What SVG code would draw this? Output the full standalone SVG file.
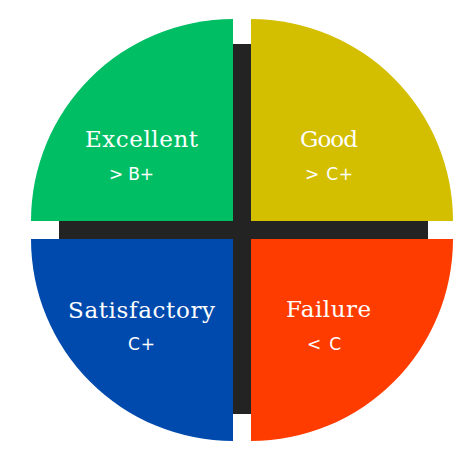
<svg xmlns="http://www.w3.org/2000/svg" width="473" height="459" viewBox="0 0 473 459">
  <style>
    .title { font-family: "DejaVu Serif", "Liberation Serif", serif; font-size: 23px; fill: #ffffff; }
    .grade { font-family: "DejaVu Sans", "Liberation Sans", sans-serif; font-size: 17px; fill: #ffffff; }
  </style>
  <rect width="473" height="459" fill="#ffffff"/>
  <!-- dark cross behind the quadrants -->
  <g id="cross" fill="#232323">
    <rect x="233" y="44" width="18" height="370"/>
    <rect x="59" y="221" width="369" height="18"/>
  </g>
  <g id="excellent">
    <path d="M233,221 L31,221 A202,202 0 0 1 233,19 Z" fill="#00BE64"/>
    <text class="title" x="85" y="147" textLength="113">Excellent</text>
    <text class="grade" x="109" y="180" textLength="45">&gt; B+</text>
  </g>
  <g id="good">
    <path d="M251,221 L251,19 A202,202 0 0 1 453,221 Z" fill="#D4BE00"/>
    <text class="title" x="300" y="147" textLength="58">Good</text>
    <text class="grade" x="305" y="180" textLength="48">&gt; C+</text>
  </g>
  <g id="satisfactory">
    <path d="M233,239 L31,239 A202,202 0 0 0 233,441 Z" fill="#004AAD"/>
    <text class="title" x="68" y="318" textLength="147">Satisfactory</text>
    <text class="grade" x="128" y="350" textLength="27">C+</text>
  </g>
  <g id="failure">
    <path d="M251,239 L453,239 A202,202 0 0 1 251,441 Z" fill="#FF3C00"/>
    <text class="title" x="286" y="317" textLength="85">Failure</text>
    <text class="grade" x="307" y="350" textLength="34">&lt; C</text>
  </g>
</svg>
